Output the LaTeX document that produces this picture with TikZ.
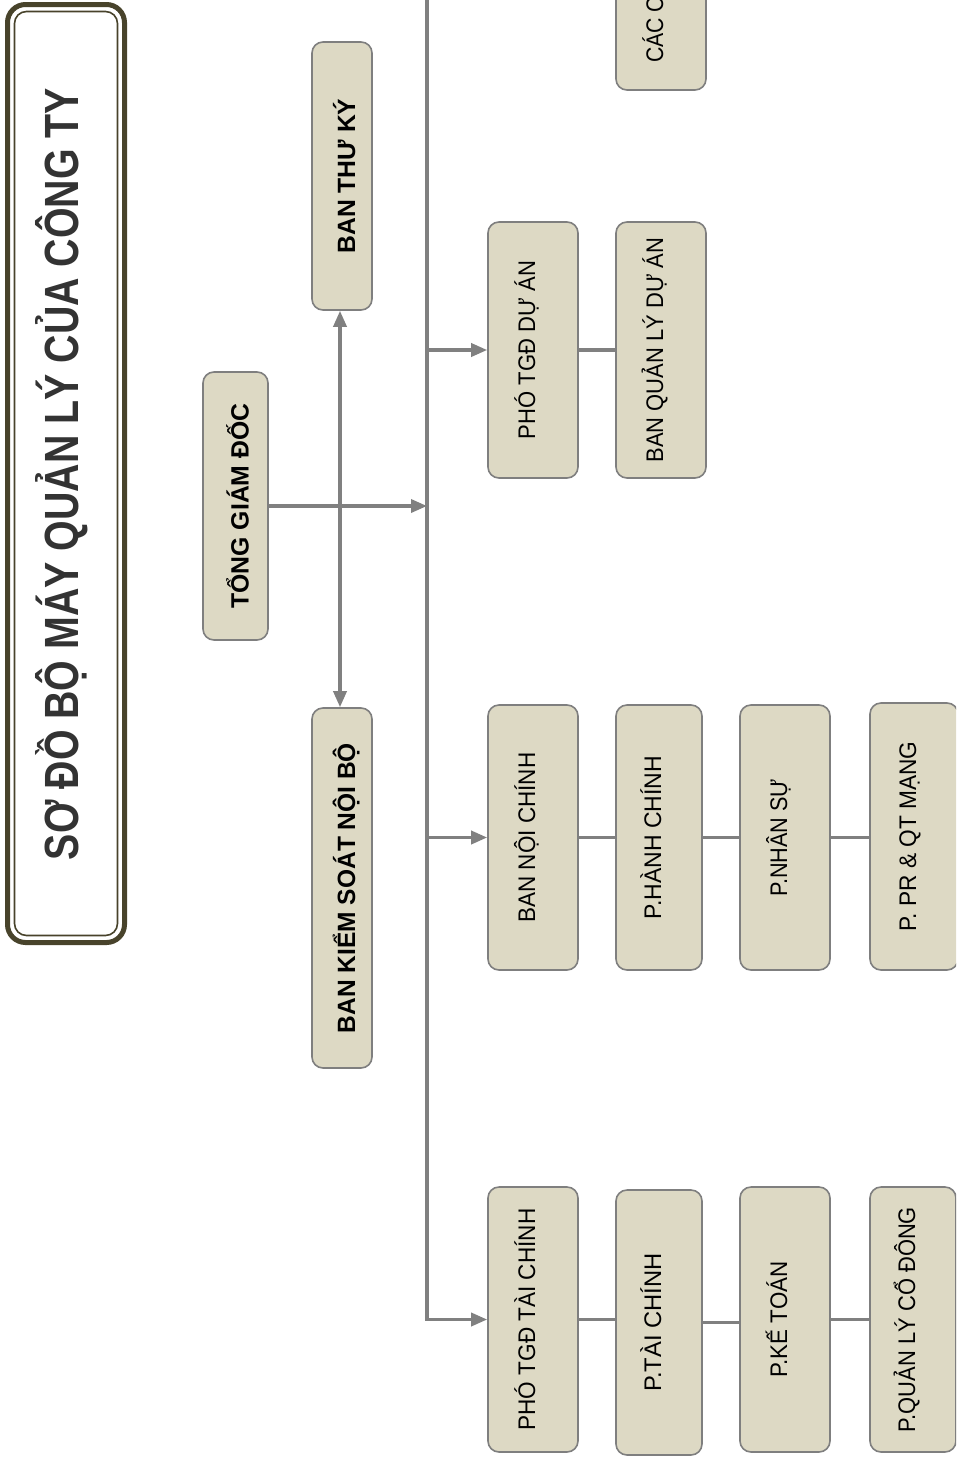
\documentclass[tikz,border=0pt]{standalone}
\usepackage{fontspec}
\usepackage{graphicx}
\setmainfont{Liberation Sans}
\usetikzlibrary{arrows.meta}
\definecolor{boxfill}{HTML}{DDD9C4}
\definecolor{boxline}{HTML}{7F7F7F}
\definecolor{conn}{HTML}{808080}
\definecolor{frame}{HTML}{48432B}
\definecolor{titletext}{HTML}{333333}
\newcommand{\fitw}[2]{\resizebox{#1pt}{\height}{#2}}
\begin{document}
\begin{tikzpicture}[x=1pt,y=-1pt,
  orgbox/.style={draw=boxline, fill=boxfill, rounded corners=11pt, line width=1.6pt,
    rotate=90, inner sep=0pt, text=black, text height=17pt, text depth=13pt,
    font=\fontsize{24}{28}\selectfont},
  boldbox/.style={orgbox, text height=28pt, text depth=2pt, font=\fontsize{25}{28}\selectfont\bfseries},
  conline/.style={draw=conn, line width=3.4pt},
  arr/.style={conline, -{Triangle[length=16pt,width=13pt]}},
  dblarr/.style={conline, {Triangle[length=16pt,width=13pt]}-{Triangle[length=16pt,width=13pt]}}
]
\useasboundingbox (0,0) rectangle (956,1462);
\clip (0,0) rectangle (956,1462);
\fill[white] (0,0) rectangle (956,1462);

% title frame
\node (titleframe) [draw=frame, line width=5pt, rounded corners=18pt, minimum width=117pt, minimum height=938pt, inner sep=0pt] at (66,473.5) {};
\node (titleinner) [draw=frame, line width=1.6pt, rounded corners=12pt, minimum width=103pt, minimum height=924pt, inner sep=0pt] at (66,473.5) {};
\node (title) [rotate=90, inner sep=0pt, text=titletext, font=\fontsize{48}{52}\selectfont\bfseries] at (62,474) {\fitw{772}{SƠ ĐỒ BỘ MÁY QUẢN LÝ CỦA CÔNG TY}};

% top level
\node (tgd) [boldbox, minimum width=268pt, minimum height=65pt] at (235.5,506) {\fitw{205}{TỔNG GIÁM ĐỐC}};
\node (btk) [boldbox, minimum width=268pt, minimum height=60pt] at (342,176) {\fitw{155}{BAN THƯ KÝ}};
\node (bks) [boldbox, minimum width=360pt, minimum height=60pt] at (342,888) {\fitw{290}{BAN KIỂM SOÁT NỘI BỘ}};

% project branch
\node (pda) [orgbox, minimum width=256pt, minimum height=90pt] at (533,350) {\fitw{178}{PHÓ TGĐ DỰ ÁN}};
\node (bql) [orgbox, minimum width=256pt, minimum height=90pt] at (661,350) {\fitw{225}{BAN QUẢN LÝ DỰ ÁN}};
\node (cac) [orgbox, minimum width=290pt, minimum height=90pt] at (661,-55) {};
\node (cactext) [rotate=90, anchor=base west, inner sep=0pt, font=\fontsize{24}{28}\selectfont] at (663,63) {\fitw{66}{CÁC C}};

% internal branch
\node (bnc) [orgbox, minimum width=265pt, minimum height=90pt] at (533,837.5) {\fitw{170}{BAN NỘI CHÍNH}};
\node (phc) [orgbox, minimum width=265pt, minimum height=86pt] at (659,837.5) {\fitw{163}{P.HÀNH CHÍNH}};
\node (pns) [orgbox, minimum width=265pt, minimum height=90pt] at (785,837.5) {\fitw{118}{P.NHÂN SỰ}};
\node (ppr) [orgbox, minimum width=267pt, minimum height=88pt] at (914,836.5) {\fitw{190}{P. PR \& QT MẠNG}};

% finance branch
\node (ptc) [orgbox, minimum width=265pt, minimum height=90pt] at (533,1319.5) {\fitw{222}{PHÓ TGĐ TÀI CHÍNH}};
\node (ptch) [orgbox, minimum width=265pt, minimum height=86pt] at (659,1322.5) {\fitw{138}{P.TÀI CHÍNH}};
\node (pkt) [orgbox, minimum width=265pt, minimum height=90pt] at (785,1319.5) {\fitw{116}{P.KẾ TOÁN}};
\node (pql) [orgbox, minimum width=265pt, minimum height=86pt] at (913,1319.5) {\fitw{225}{P.QUẢN LÝ CỔ ĐÔNG}};

% connectors
\coordinate (bustop) at (427,-5);
\coordinate (vtop) at (340,0);
\draw[arr] (bustop) |- (ptc.north);
\draw[arr] (pda.north -| bustop) -- (pda.north);
\draw[arr] (bnc.north -| bustop) -- (bnc.north);
\draw[dblarr] (btk.west -| vtop) -- (bks.east -| vtop);
\draw[arr] (tgd.south) -- (tgd.south -| bustop);

\draw[conline] (pda.south) -- (pda.south -| bql.north);
\draw[conline] (bnc.south) -- (bnc.south -| phc.north);
\draw[conline] (phc.south) -- (phc.south -| pns.north);
\draw[conline] (pns.south) -- (pns.south -| ppr.north);
\draw[conline] (ptc.south) -- (ptc.south -| ptch.north);
\draw[conline] (ptch.south) -- (ptch.south -| pkt.north);
\draw[conline] (pkt.south) -- (pkt.south -| pql.north);
\end{tikzpicture}
\end{document}
